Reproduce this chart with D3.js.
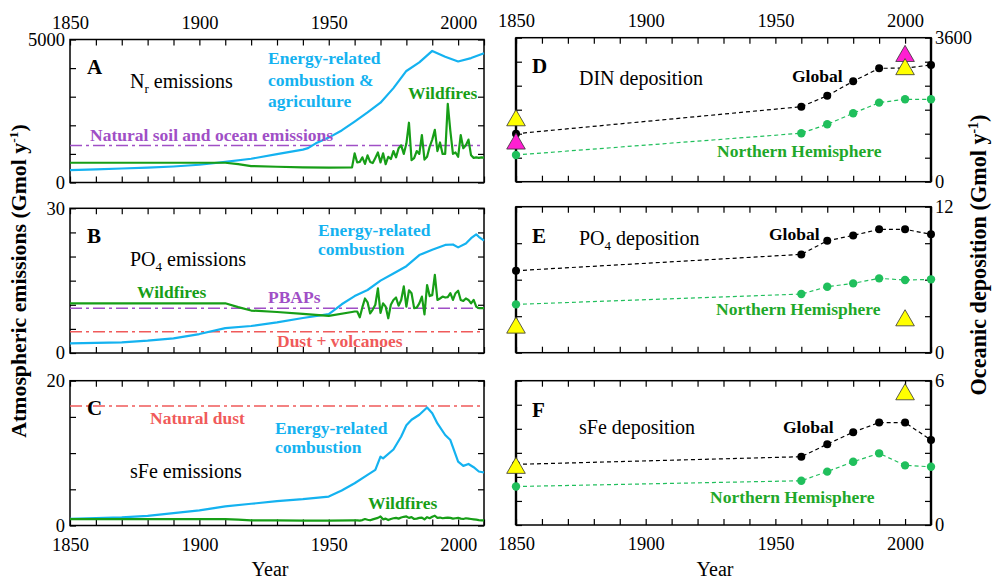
<!DOCTYPE html>
<html>
<head>
<meta charset="utf-8">
<script src="https://cdn.jsdelivr.net/npm/d3@7"></script>
<style>
  body { margin: 0; background: #fff; }
  svg { display: block; font-family: "Liberation Serif", "Times New Roman", serif; }
</style>
</head>
<body>
<svg width="1006" height="579"></svg>
<script>
// ---- data ----
const energyNYears = [1850, 1860, 1870, 1880, 1890, 1900, 1910, 1920, 1930, 1940, 1942, 1945, 1950, 1955, 1960, 1965, 1970, 1975, 1980, 1985, 1990, 1995, 2000, 2005, 2010];
const energyN = [430, 460, 490, 520, 560, 620, 720, 830, 990, 1150, 1200, 1370, 1570, 1820, 2130, 2450, 2790, 3300, 3900, 4200, 4600, 4400, 4230, 4350, 4520];

const energyPYears = [1850, 1870, 1880, 1890, 1900, 1910, 1920, 1930, 1940, 1950, 1953, 1955, 1960, 1965, 1970, 1975, 1980, 1985, 1990, 1995, 1998, 2000, 2003, 2005, 2007, 2008, 2010];
const energyP = [2.0, 2.2, 2.55, 3.04, 3.93, 5.17, 5.6, 6.36, 7.25, 8.05, 9.25, 10.1, 11.8, 13.06, 15.0, 16.5, 18.0, 20.3, 21.4, 22.4, 22.5, 21.9, 22.7, 23.8, 24.6, 24.1, 23.3];

const energyFeYears = [1850, 1870, 1880, 1890, 1900, 1910, 1920, 1930, 1940, 1950, 1955, 1960, 1965, 1968, 1970, 1971, 1975, 1978, 1980, 1982, 1985, 1988, 1990, 1992, 1995, 1997, 2000, 2002, 2004, 2006, 2008, 2010];
const energyFe = [0.92, 1.11, 1.34, 1.71, 2.08, 2.63, 3.0, 3.36, 3.64, 4.0, 4.83, 5.84, 6.99, 7.68, 9.5, 9.28, 10.5, 12.3, 13.84, 14.6, 15.3, 16.3, 15.5, 14.1, 12.5, 11.8, 8.83, 8.24, 8.5, 8.05, 7.46, 7.32];

// wildfires: smooth pre-1960 part + annual values 1960-2010
const firePreYears = [1850, 1910, 1915, 1920, 1930, 1940, 1950, 1959];
const fireAnnualYears = d3.range(1960, 2011);
const fireNPre = [690, 690, 640, 575, 550, 530, 520, 530];
const fireN = [
  1020, 700, 720, 880, 650, 950, 720, 680, 860, 1050,
  700, 1020, 640, 900, 820, 1100, 880, 1200, 1300, 1000,
  1360, 2090, 780, 850, 1100, 1000, 1660, 800, 900, 1250,
  1500, 1840, 1100, 1400, 1000, 1000, 2750, 1800, 1000, 1050,
  900, 1660, 1200, 1300, 1500, 950, 860, 880, 860, 880, 870];
const firePPre = [10.3, 10.3, 9.5, 8.8, 8.5, 8.1, 7.7, 8.5];
const fireP = [
  8.6, 8.6, 7.4, 9.5, 11.3, 10.5, 8.2, 9.0, 10.0, 13.4,
  8.3, 10.3, 9.6, 7.2, 10.0, 11.0, 11.5, 9.8, 11.0, 13.8,
  9.6, 13.0, 12.4, 9.3, 9.4, 10.3, 11.7, 8.0, 14.1, 11.8,
  12.0, 16.2, 11.0, 11.3, 11.7, 11.5, 11.6, 12.4, 11.0, 12.4,
  12.9, 11.0, 10.8, 11.3, 11.0, 10.3, 11.0, 9.6, 9.3, 9.3, 9.3];
const fireFePre = [0.88, 0.88, 0.8, 0.72, 0.7, 0.68, 0.67, 0.7];
const fireFe = [
  0.70, 0.72, 0.68, 0.75, 0.90, 0.80, 0.72, 0.85, 0.95, 1.05,
  1.25, 0.85, 0.95, 0.75, 0.90, 1.00, 1.05, 0.95, 1.10, 1.20,
  1.25, 1.05, 1.15, 0.90, 0.95, 1.05, 1.10, 0.85, 1.15, 1.00,
  1.20, 1.35, 1.05, 1.10, 1.00, 1.05, 1.10, 1.05, 0.95, 1.00,
  1.05, 0.95, 0.90, 1.00, 0.95, 0.90, 0.85, 0.80, 0.75, 0.72, 0.70];

// natural background levels
const naturalN = 1290;
const pbapP = 9.3;
const dustP = 4.4;
const dustFe = 16.5;

// deposition (decadal model years)
const depYears = [1850, 1960, 1970, 1980, 1990, 2000, 2010];
const dinGlobal = [1200, 1875, 2150, 2510, 2835, 2840, 2918];
const dinNH = [668, 1212, 1435, 1710, 1977, 2060, 2060];
const po4Global = [6.74, 8.08, 9.2, 9.64, 10.14, 10.14, 9.73];
const po4NH = [3.97, 4.82, 5.42, 5.7, 6.11, 5.97, 6.03];
const sfeGlobal = [2.52, 2.84, 3.36, 3.86, 4.26, 4.26, 3.53];
const sfeNH = [1.6, 1.84, 2.22, 2.63, 2.98, 2.48, 2.42];

// other estimates (triangles)
const triYears = [1850, 2000];
const dinYellow = [1532, 2810];
const dinMagenta = [950, 3140];
const po4Yellow = [2.05, 2.65];
const sfeYellow = [2.37, 5.43];

const cyan = "#14b2f0", fireGreen = "#179e17", nhGreen = "#20bf5c", nhText = "#1fa82a",
      purple = "#a04fc6", salmon = "#f05a5a";

const svg = d3.select("svg");
const xLeft = d3.scaleLinear([1850, 2010], [70, 484]);
const xRight = d3.scaleLinear([1850, 2010], [516, 931]);
const decades = d3.range(1850, 2011, 10);
const tickFont = 18.5;

function drawFrame(x, y, yStep, opts) {
  const [x0, x1] = x.range();
  const [y0, y1] = y.range(); // y0 bottom, y1 top
  const yMax = y.domain()[1];
  const yTicks = d3.range(0, yMax + yStep / 2, yStep);
  const g = svg.append("g");

  const topAxis = g.append("g").attr("transform", `translate(0,${y1})`)
    .call(d3.axisTop(x).tickValues(decades).tickSize(-6).tickSizeOuter(0).tickPadding(11)
      .tickFormat(d => opts.topLabels && d % 50 === 0 && d <= 2000 ? d : ""));
  const botAxis = g.append("g").attr("transform", `translate(0,${y0})`)
    .call(d3.axisBottom(x).tickValues(decades).tickSize(-6).tickSizeOuter(0).tickPadding(12)
      .tickFormat(d => opts.bottomLabels && d % 50 === 0 && d <= 2000 ? d : ""));
  const leftAxis = g.append("g").attr("transform", `translate(${x0},0)`)
    .call(d3.axisLeft(y).tickValues(yTicks).tickSize(-6).tickSizeOuter(0).tickPadding(5)
      .tickFormat(d => opts.side === "left" && (d === 0 || d === yMax) ? d : ""));
  const rightAxis = g.append("g").attr("transform", `translate(${x1},0)`)
    .call(d3.axisRight(y).tickValues(yTicks).tickSize(-6).tickSizeOuter(0).tickPadding(4)
      .tickFormat(d => opts.side === "right" && (d === 0 || d === yMax) ? d : ""));

  [topAxis, botAxis, leftAxis, rightAxis].forEach(a => {
    a.attr("font-family", null);
    a.select(".domain").remove();
    a.selectAll("line").attr("stroke", "#000").attr("stroke-width", 1.2);
    a.selectAll("text").attr("font-size", tickFont).attr("fill", "#000");
  });

  g.append("rect").attr("x", x0).attr("y", y1).attr("width", x1 - x0).attr("height", y0 - y1)
    .attr("fill", "none").attr("stroke", "#000").attr("stroke-width", 1.5);
  if (opts.side === "right") {
    g.append("line").attr("x1", x0).attr("x2", x0).attr("y1", y1).attr("y2", y0)
      .attr("stroke", "#000").attr("stroke-width", 2.4);
    g.append("line").attr("x1", x1).attr("x2", x1).attr("y1", y1).attr("y2", y0)
      .attr("stroke", "#000").attr("stroke-width", 2.4);
  }
}

function lineOf(x, y, years, vals, color, width, dash) {
  svg.append("path")
    .datum(years.map((yr, i) => [yr, vals[i]]))
    .attr("fill", "none").attr("stroke", color).attr("stroke-width", width)
    .attr("stroke-linejoin", "round")
    .attr("stroke-dasharray", dash || null)
    .attr("d", d3.line().x(d => x(d[0])).y(d => y(d[1])));
}

function hline(x, y, v, color) {
  svg.append("line")
    .attr("x1", x.range()[0]).attr("x2", x.range()[1])
    .attr("y1", y(v)).attr("y2", y(v))
    .attr("stroke", color).attr("stroke-width", 1.5)
    .attr("stroke-dasharray", "12,4,3,4");
}

function label(x, y, txt, opts = {}) {
  const size = opts.size || 17.5;
  const t = svg.append("text").attr("x", x).attr("y", y)
    .attr("font-size", size)
    .attr("font-weight", opts.bold === false ? "normal" : "bold")
    .attr("fill", opts.color || "#000");
  if (opts.sub) {
    t.append("tspan").text(txt);
    t.append("tspan").attr("font-size", size * 0.65).attr("dy", 5).text(opts.sub);
    t.append("tspan").attr("dy", -5).text(opts.rest);
  } else {
    t.text(txt);
  }
  return t;
}

function fires(x, y, pre, annual) {
  lineOf(x, y, firePreYears.concat(fireAnnualYears), pre.concat(annual), fireGreen, 2.2);
}

function depSeries(x, y, vals, color, r) {
  lineOf(x, y, depYears, vals, color, 1.2, "4,3");
  svg.selectAll(null).data(depYears.map((yr, i) => [yr, vals[i]])).enter()
    .append("circle").attr("cx", d => x(d[0])).attr("cy", d => y(d[1])).attr("r", r).attr("fill", color);
}

function triangles(x, y, vals, color) {
  svg.selectAll(null).data(triYears.map((yr, i) => [yr, vals[i]])).enter()
    .append("path")
    .attr("transform", d => `translate(${x(d[0])},${y(d[1])})`)
    .attr("d", d3.symbol(d3.symbolTriangle, 150))
    .attr("fill", color).attr("stroke", "#333").attr("stroke-width", 0.8);
}

// ---------- Panel A ----------
const yA = d3.scaleLinear([0, 5000], [182.5, 39.5]);
drawFrame(xLeft, yA, 1000, { side: "left", topLabels: true });
hline(xLeft, yA, naturalN, purple);
lineOf(xLeft, yA, energyNYears, energyN, cyan, 2.2);
fires(xLeft, yA, fireNPre, fireN);
label(87, 74, "A", { size: 21 });
label(130, 88, "N", { size: 20, bold: false, sub: "r", rest: " emissions" });
label(268, 64, "Energy-related", { color: cyan });
label(268, 86, "combustion &", { color: cyan });
label(268, 107, "agriculture", { color: cyan });
label(408, 99, "Wildfires", { color: fireGreen });
label(90, 141, "Natural soil and ocean emissions", { color: purple });

// ---------- Panel B ----------
const yB = d3.scaleLinear([0, 30], [353, 208.3]);
drawFrame(xLeft, yB, 5, { side: "left" });
hline(xLeft, yB, pbapP, purple);
hline(xLeft, yB, dustP, salmon);
lineOf(xLeft, yB, energyPYears, energyP, cyan, 2.2);
fires(xLeft, yB, firePPre, fireP);
label(87, 243, "B", { size: 21 });
label(130, 266, "PO", { size: 20, bold: false, sub: "4", rest: " emissions" });
label(318, 236, "Energy-related", { color: cyan });
label(318, 255, "combustion", { color: cyan });
label(137, 298, "Wildfires", { color: fireGreen });
label(268, 303, "PBAPs", { color: purple });
label(277, 347, "Dust + volcanoes", { color: salmon });

// ---------- Panel C ----------
const yC = d3.scaleLinear([0, 20], [525.5, 380.7]);
drawFrame(xLeft, yC, 5, { side: "left", bottomLabels: true });
hline(xLeft, yC, dustFe, salmon);
lineOf(xLeft, yC, energyFeYears, energyFe, cyan, 2.2);
fires(xLeft, yC, fireFePre, fireFe);
label(87, 415, "C", { size: 21 });
label(150, 424, "Natural dust", { color: salmon });
label(275, 434, "Energy-related", { color: cyan });
label(275, 453, "combustion", { color: cyan });
label(130, 478, "sFe emissions", { size: 20, bold: false });
label(368, 509, "Wildfires", { color: fireGreen });

// ---------- Panel D ----------
const yD = d3.scaleLinear([0, 3600], [181.7, 37.7]);
drawFrame(xRight, yD, 600, { side: "right", topLabels: true });
depSeries(xRight, yD, dinNH, nhGreen, 4.2);
depSeries(xRight, yD, dinGlobal, "#000", 4);
triangles(xRight, yD, dinMagenta, "#ff1fd2");
triangles(xRight, yD, dinYellow, "#ffff00");
label(532, 73, "D", { size: 21 });
label(579, 85, "DIN deposition", { size: 20, bold: false });
label(792, 82, "Global");
label(717, 157, "Northern Hemisphere", { color: nhText });

// ---------- Panel E ----------
const yE = d3.scaleLinear([0, 12], [352.7, 206.7]);
drawFrame(xRight, yE, 3, { side: "right" });
depSeries(xRight, yE, po4NH, nhGreen, 4.2);
depSeries(xRight, yE, po4Global, "#000", 4);
triangles(xRight, yE, po4Yellow, "#ffff00");
label(532, 243, "E", { size: 21 });
label(579, 245, "PO", { size: 20, bold: false, sub: "4", rest: " deposition" });
label(769, 240, "Global");
label(716, 315, "Northern Hemisphere", { color: nhText });

// ---------- Panel F ----------
const yF = d3.scaleLinear([0, 6], [525, 380.7]);
drawFrame(xRight, yF, 1, { side: "right", bottomLabels: true });
depSeries(xRight, yF, sfeNH, nhGreen, 4.2);
depSeries(xRight, yF, sfeGlobal, "#000", 4);
triangles(xRight, yF, sfeYellow, "#ffff00");
label(532, 417, "F", { size: 21 });
label(579, 434, "sFe deposition", { size: 20, bold: false });
label(783, 433, "Global");
label(710, 503, "Northern Hemisphere", { color: nhText });

// ---------- axis titles ----------
function yTitle(cx, cy, txt, size) {
  const t = svg.append("text")
    .attr("transform", `translate(${cx},${cy}) rotate(-90)`)
    .attr("text-anchor", "middle").attr("font-weight", "bold").attr("font-size", size);
  t.append("tspan").text(txt + " (Gmol y");
  t.append("tspan").attr("font-size", size * 0.62).attr("dy", -8).text("-1");
  t.append("tspan").attr("dy", 8).text(")");
}
yTitle(26, 281, "Atmospheric emissions", 21.8);
yTitle(986, 255, "Oceanic deposition", 22.2);

svg.append("text").attr("x", 270).attr("y", 576).attr("text-anchor", "middle").attr("font-size", 20).text("Year");
svg.append("text").attr("x", 715).attr("y", 576).attr("text-anchor", "middle").attr("font-size", 20).text("Year");
</script>
</body>
</html>
